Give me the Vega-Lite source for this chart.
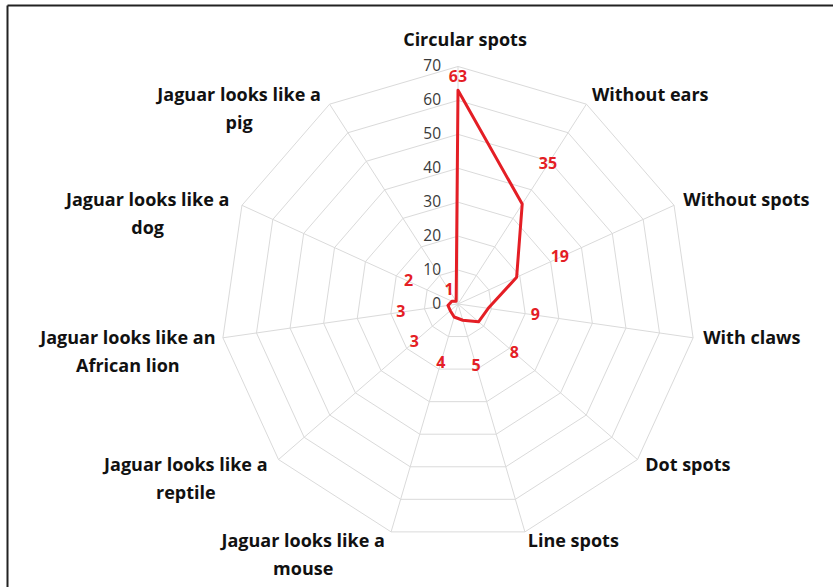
{
  "$schema": "https://vega.github.io/schema/vega-lite/v6.json",
  "width": 826,
  "height": 582,
  "autosize": "none",
  "padding": {"left": 7, "top": 5, "right": 0, "bottom": 0},
  "background": "white",
  "config": {"view": {"stroke": null}, "font": "Open Sans"},
  "datasets": {
    "main": [
      {"category": "Circular spots", "i": 0, "value": 63},
      {"category": "Without ears", "i": 1, "value": 35},
      {"category": "Without spots", "i": 2, "value": 19},
      {"category": "With claws", "i": 3, "value": 9},
      {"category": "Dot spots", "i": 4, "value": 8},
      {"category": "Line spots", "i": 5, "value": 5},
      {"category": "Jaguar looks like a\nmouse", "i": 6, "value": 4},
      {"category": "Jaguar looks like a\nreptile", "i": 7, "value": 3},
      {"category": "Jaguar looks like an\nAfrican lion", "i": 8, "value": 3},
      {"category": "Jaguar looks like a\ndog", "i": 9, "value": 2},
      {"category": "Jaguar looks like a\npig", "i": 10, "value": 1}
    ],
    "grid": [
      {"level": 0, "k": [0,1,2,3,4,5,6,7,8,9,10]},
      {"level": 10, "k": [0,1,2,3,4,5,6,7,8,9,10]},
      {"level": 20, "k": [0,1,2,3,4,5,6,7,8,9,10]},
      {"level": 30, "k": [0,1,2,3,4,5,6,7,8,9,10]},
      {"level": 40, "k": [0,1,2,3,4,5,6,7,8,9,10]},
      {"level": 50, "k": [0,1,2,3,4,5,6,7,8,9,10]},
      {"level": 60, "k": [0,1,2,3,4,5,6,7,8,9,10]},
      {"level": 70, "k": [0,1,2,3,4,5,6,7,8,9,10]}
    ]
  },
  "data": {"name": "main"},
  "encoding": {
    "x": {"field": "x", "type": "quantitative",
      "scale": {"domain": [-132.92, 110.52], "nice": false, "zero": false},
      "axis": {"orient": "top", "ticks": false, "labels": false, "grid": false, "title": null, "domainColor": "#222222", "domainWidth": 2}},
    "y": {"field": "y", "type": "quantitative",
      "scale": {"domain": [-83.41, 88.12], "nice": false, "zero": false},
      "axis": {"orient": "left", "ticks": false, "labels": false, "grid": false, "title": null, "domainColor": "#222222", "domainWidth": 2}}
  },
  "layer": [
    {
      "data": {"name": "grid"},
      "transform": [
        {"filter": "datum.level > 0"},
        {"flatten": ["k"]},
        {"calculate": "datum.k * 2 * PI / 11", "as": "t"},
        {"calculate": "datum.level * sin(datum.t)", "as": "x"},
        {"calculate": "datum.level * cos(datum.t)", "as": "y"}
      ],
      "mark": {"type": "line", "stroke": "#dadada", "strokeWidth": 1, "interpolate": "linear-closed"},
      "encoding": {"detail": {"field": "level"}, "order": {"field": "k"}}
    },
    {
      "transform": [
        {"calculate": "datum.i * 2 * PI / 11", "as": "t"},
        {"calculate": "70 * sin(datum.t)", "as": "x"},
        {"calculate": "70 * cos(datum.t)", "as": "y"}
      ],
      "mark": {"type": "rule", "stroke": "#dadada", "strokeWidth": 1},
      "encoding": {"x2": {"datum": 0}, "y2": {"datum": 0}}
    },
    {
      "data": {"name": "grid"},
      "transform": [
        {"calculate": "0", "as": "x"},
        {"calculate": "datum.level", "as": "y"}
      ],
      "mark": {"type": "text", "align": "right", "baseline": "middle", "dx": -17, "fontSize": 15.5, "fill": "#3a3a3a"},
      "encoding": {"text": {"field": "level"}}
    },
    {
      "transform": [
        {"calculate": "datum.i * 2 * PI / 11", "as": "t"},
        {"calculate": "datum.value * sin(datum.t)", "as": "x"},
        {"calculate": "datum.value * cos(datum.t)", "as": "y"}
      ],
      "mark": {"type": "line", "stroke": "#e41e25", "strokeWidth": 3, "strokeJoin": "round", "interpolate": "linear-closed"},
      "encoding": {"order": {"field": "i"}}
    },
    {
      "transform": [
        {"calculate": "datum.i * 2 * PI / 11", "as": "t"},
        {"calculate": "(datum.i == 0 || datum.i == 10) ? 3.9 : 14", "as": "off"},
        {"calculate": "(datum.value + datum.off) * sin(datum.t)", "as": "x"},
        {"calculate": "(datum.value + datum.off) * cos(datum.t)", "as": "y"}
      ],
      "mark": {"type": "text", "align": "center", "baseline": "middle", "fontSize": 16, "fontWeight": "bold", "fill": "#e41e25"},
      "encoding": {"text": {"field": "value"}}
    },
    {
      "transform": [
        {"filter": "datum.i >= 1 && datum.i <= 5"},
        {"calculate": "datum.i * 2 * PI / 11", "as": "t"},
        {"calculate": "73 * sin(datum.t)", "as": "x"},
        {"calculate": "73 * cos(datum.t)", "as": "y"}
      ],
      "mark": {"type": "text", "align": "left", "baseline": "middle", "fontSize": 18, "fontWeight": "bold", "fill": "#111111"},
      "encoding": {"text": {"field": "category"}}
    },
    {
      "transform": [
        {"filter": "datum.i >= 6"},
        {"calculate": "datum.i * 2 * PI / 11", "as": "t"},
        {"calculate": "73 * sin(datum.t)", "as": "x"},
        {"calculate": "73 * cos(datum.t)", "as": "y"}
      ],
      "mark": {"type": "text", "align": "center", "baseline": "middle", "dx": -85, "lineBreak": "\n", "lineHeight": 28, "fontSize": 18, "fontWeight": "bold", "fill": "#111111"},
      "encoding": {"text": {"field": "category"}}
    },
    {
      "transform": [
        {"filter": "datum.i == 0"},
        {"calculate": "0", "as": "x"},
        {"calculate": "73", "as": "y"}
      ],
      "mark": {"type": "text", "align": "center", "baseline": "bottom", "dx": 7, "dy": -6, "fontSize": 18, "fontWeight": "bold", "fill": "#111111"},
      "encoding": {"text": {"field": "category"}}
    }
  ]
}
